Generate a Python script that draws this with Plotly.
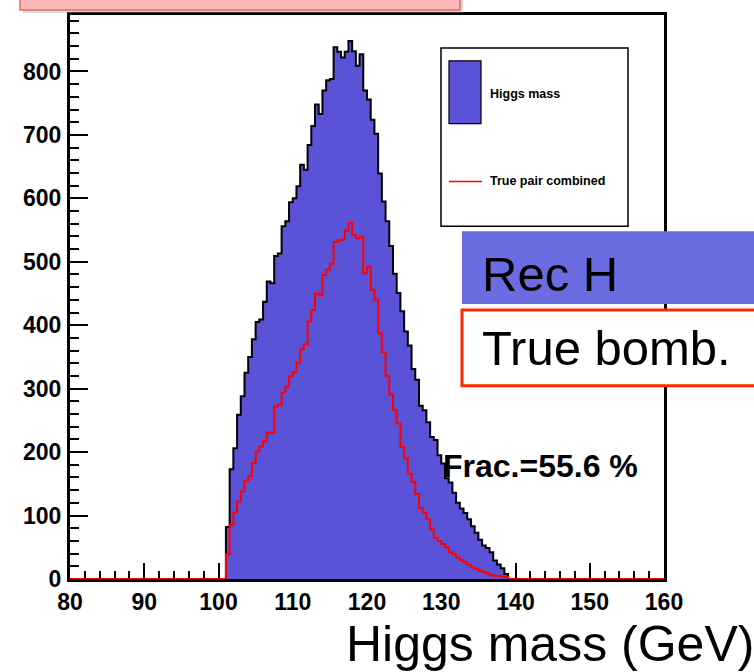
import plotly.graph_objects as go

# ---------------- data ----------------
bin_width = 0.5          # GeV
x_min, x_max = 80.0, 160.0
first_filled_bin = 101.0  # lower edge of the first non-empty bin

# Reconstructed mass ("Higgs mass"), counts per 0.5 GeV bin starting at 101 GeV
higgs_mass_counts = [
    82, 173, 206, 259, 288, 325, 350, 378, 405, 409,
    437, 469, 466, 509, 513, 556, 564, 594, 600, 619,
    653, 645, 684, 714, 748, 733, 770, 786, 788, 838,
    831, 822, 831, 848, 832, 809, 827, 770, 756, 724,
    702, 639, 595, 564, 525, 481, 451, 422, 390, 368,
    331, 314, 273, 266, 247, 224, 219, 195, 182, 159,
    152, 136, 120, 111, 104, 94, 83, 73, 62, 53,
    49, 42, 29, 23, 17, 8,
]

# True pair combined, counts per 0.5 GeV bin starting at 101 GeV
true_pair_counts = [
    39, 85, 105, 122, 138, 155, 162, 183, 201, 209,
    217, 231, 230, 272, 275, 294, 303, 319, 326, 341,
    362, 370, 406, 424, 450, 447, 479, 488, 497, 531,
    534, 535, 549, 561, 542, 537, 539, 482, 492, 456,
    440, 387, 357, 320, 291, 266, 245, 208, 190, 166,
    153, 134, 112, 104, 94, 78, 65, 60, 55, 50,
    42, 39, 34, 30, 26, 22, 18, 16, 13, 11,
    9, 6, 5, 5, 4, 3,
]

x_tick_vals = [80, 90, 100, 110, 120, 130, 140, 150, 160]
y_tick_vals = [0, 100, 200, 300, 400, 500, 600, 700, 800]
y_max = 889

legend_labels = ["Higgs mass", "True pair combined"]
frac_text = "Frac.=55.6 %"
x_title = "Higgs mass (GeV)"
box_labels = ["Rec H", "True bomb."]

# ---------------- build full histograms ----------------
n_bins = int(round((x_max - x_min) / bin_width))
edges = [x_min + i * bin_width for i in range(n_bins + 1)]
offset = int(round((first_filled_bin - x_min) / bin_width))


def full_hist(counts):
    full = [0] * n_bins
    for i, c in enumerate(counts):
        full[offset + i] = c
    return full + [full[-1]]


blue_full = full_hist(higgs_mass_counts)
red_full = full_hist(true_pair_counts)

FILL_BLUE = "#5A53D7"
REC_BLUE = "#6B6CE1"
RED = "#FF0000"

fig = go.Figure()
fig.add_trace(go.Scatter(
    x=edges, y=blue_full, mode="lines", line_shape="hv",
    fill="tozeroy", fillcolor=FILL_BLUE,
    line=dict(color="black", width=2), showlegend=False, hoverinfo="skip",
))
fig.add_trace(go.Scatter(
    x=edges, y=red_full, mode="lines", line_shape="hv",
    line=dict(color=RED, width=2), showlegend=False, hoverinfo="skip",
))

# ---------------- layout geometry (pixels) ----------------
W, H = 754, 672
L, R, T, B = 70, 664, 13, 579


def px(x):
    return (x - L) / (R - L)


def py(y):
    return (B - y) / (B - T)


FONT = "Liberation Sans, Arial, sans-serif"

fig.update_layout(
    width=W, height=H,
    margin=dict(l=L, r=W - R, t=T, b=H - B, pad=0),
    paper_bgcolor="white", plot_bgcolor="white",
    showlegend=False,
    xaxis=dict(
        range=[x_min, x_max], tickvals=x_tick_vals,
        ticks="inside", ticklen=16, tickwidth=1.5, tickcolor="black",
        minor=dict(dtick=2, tick0=80, ticks="inside", ticklen=8, tickwidth=1.5, tickcolor="black"),
        showline=True, linecolor="black", linewidth=3, mirror=True,
        showgrid=False, zeroline=False,
        tickfont=dict(family=FONT, size=23, color="black", weight="bold"),
        ticklabelstandoff=0,
        layer="below traces",
    ),
    yaxis=dict(
        range=[0, y_max], tickvals=y_tick_vals,
        ticks="inside", ticklen=18, tickwidth=1.5, tickcolor="black",
        minor=dict(dtick=20, tick0=0, ticks="inside", ticklen=9, tickwidth=1.5, tickcolor="black"),
        showline=True, linecolor="black", linewidth=3, mirror=True,
        showgrid=False, zeroline=False,
        tickfont=dict(family=FONT, size=23, color="black", weight="bold"),
        ticklabelstandoff=1,
    ),
)

shapes = []
annotations = []

# pink box at the top (cut off)
shapes.append(dict(type="rect", xref="paper", yref="paper",
                   x0=px(23), x1=px(463), y0=py(11), y1=py(-20),
                   fillcolor="rgba(150,150,150,0.35)", line=dict(width=0), layer="above"))
shapes.append(dict(type="rect", xref="paper", yref="paper",
                   x0=px(20), x1=px(460), y0=py(8), y1=py(-20),
                   fillcolor="#FFB8B8", line=dict(color="#E06A6A", width=1.5), layer="above"))

# legend box
shapes.append(dict(type="rect", xref="paper", yref="paper",
                   x0=px(441), x1=px(628), y0=py(225), y1=py(46),
                   fillcolor="white", line=dict(color="black", width=1.5), layer="above"))
shapes.append(dict(type="rect", xref="paper", yref="paper",
                   x0=px(449), x1=px(481), y0=py(122), y1=py(59),
                   fillcolor=FILL_BLUE, line=dict(color="black", width=1.2), layer="above"))
shapes.append(dict(type="line", xref="paper", yref="paper",
                   x0=px(449), x1=px(482), y0=py(180), y1=py(180),
                   line=dict(color=RED, width=1.5), layer="above"))
annotations.append(dict(xref="paper", yref="paper", x=px(488), y=py(92),
                        text=legend_labels[0], showarrow=False, xanchor="left", yanchor="middle",
                        font=dict(family=FONT, size=12.5, color="black", weight="bold")))
annotations.append(dict(xref="paper", yref="paper", x=px(488), y=py(180),
                        text=legend_labels[1], showarrow=False, xanchor="left", yanchor="middle",
                        font=dict(family=FONT, size=12.5, color="black", weight="bold")))

# Rec H box
shapes.append(dict(type="rect", xref="paper", yref="paper",
                   x0=px(462), x1=px(760), y0=py(303), y1=py(230),
                   fillcolor=REC_BLUE, line=dict(width=0), layer="above"))
annotations.append(dict(xref="paper", yref="paper", x=px(480), y=py(273),
                        text=box_labels[0], showarrow=False, xanchor="left", yanchor="middle",
                        font=dict(family=FONT, size=49, color="black")))

# True bomb. box
shapes.append(dict(type="rect", xref="paper", yref="paper",
                   x0=px(462), x1=px(770), y0=py(385), y1=py(309),
                   fillcolor="white", line=dict(color="#FF2A00", width=3), layer="above"))
annotations.append(dict(xref="paper", yref="paper", x=px(480), y=py(347),
                        text=box_labels[1], showarrow=False, xanchor="left", yanchor="middle",
                        font=dict(family=FONT, size=49, color="black")))

# Frac. text
annotations.append(dict(xref="paper", yref="paper", x=px(441), y=py(466),
                        text=frac_text, showarrow=False, xanchor="left", yanchor="middle",
                        font=dict(family=FONT, size=32, color="black", weight="bold")))

# x title
annotations.append(dict(xref="paper", yref="paper", x=px(756), y=py(644),
                        text=x_title, showarrow=False, xanchor="right", yanchor="middle",
                        font=dict(family=FONT, size=50, color="black")))

fig.update_layout(shapes=shapes, annotations=annotations)

fig.write_html("out.html")
